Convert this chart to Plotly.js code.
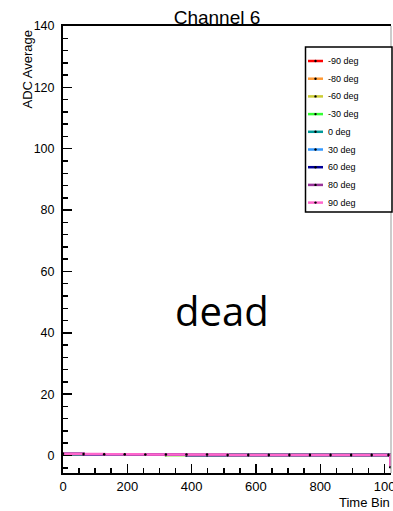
<!DOCTYPE html>
<html>
<head>
<meta charset="utf-8">
<script src="https://cdn.plot.ly/plotly-3.0.1.min.js"></script>
<style>
html,body{margin:0;padding:0;background:#fff;}
#chart{width:393px;height:511px;}
</style>
</head>
<body>
<div id="chart"></div>
<script>
// Data
const timeBins = [0, 64, 128, 192, 256, 320, 384, 448, 512, 576, 640, 704, 768, 832, 896, 960, 1012, 1018];
const seriesNames = ["-90 deg", "-80 deg", "-60 deg", "-30 deg", "0 deg", "30 deg", "60 deg", "80 deg", "90 deg"];
const seriesColors = ["#ff0000", "#ff9933", "#cccc33", "#33ff33", "#009999", "#3399ff", "#000099", "#993399", "#ff66cc"];
const adcM90 = [0.5, 0.4, 0.4, 0.3, 0.3, 0.3, 0.2, 0.2, 0.2, 0.2, 0.2, 0.2, 0.2, 0.2, 0.2, 0.2, 0.2, -3.5];
const adcM80 = [0.5, 0.4, 0.4, 0.3, 0.3, 0.3, 0.2, 0.2, 0.2, 0.2, 0.2, 0.2, 0.2, 0.2, 0.2, 0.2, 0.2, -3.5];
const adcM60 = [0.4, 0.4, 0.3, 0.3, 0.3, 0.2, 0.2, 0.2, 0.2, 0.2, 0.2, 0.2, 0.2, 0.2, 0.2, 0.2, 0.2, -3.5];
const adcM30 = [0.4, 0.4, 0.3, 0.3, 0.3, 0.2, 0.2, 0.2, 0.2, 0.2, 0.2, 0.2, 0.2, 0.2, 0.2, 0.2, 0.2, -3.5];
const adc0   = [0.5, 0.4, 0.4, 0.4, 0.3, 0.3, 0.2, 0.2, 0.2, 0.2, 0.2, 0.2, 0.2, 0.2, 0.2, 0.2, 0.2, -3.5];
const adcP30 = [0.5, 0.4, 0.4, 0.4, 0.3, 0.3, 0.2, 0.2, 0.2, 0.2, 0.2, 0.2, 0.2, 0.2, 0.2, 0.2, 0.2, -3.5];
const adcP60 = [0.5, 0.4, 0.4, 0.4, 0.3, 0.3, 0.2, 0.2, 0.2, 0.2, 0.2, 0.2, 0.2, 0.2, 0.2, 0.2, 0.2, -3.5];
const adcP80 = [0.5, 0.4, 0.4, 0.3, 0.3, 0.3, 0.2, 0.2, 0.2, 0.2, 0.2, 0.2, 0.2, 0.2, 0.2, 0.2, 0.2, -3.5];
const adcP90 = [0.6, 0.5, 0.4, 0.4, 0.3, 0.3, 0.3, 0.3, 0.2, 0.2, 0.2, 0.2, 0.2, 0.2, 0.2, 0.2, 0.2, -3.8];
const xTickVals = [0, 200, 400, 600, 800, 1000];
const xTickText = ["0", "200", "400", "600", "800", "100"];
const yTickVals = [0, 20, 40, 60, 80, 100, 120, 140];

const allSeries = [adcM90, adcM80, adcM60, adcM30, adc0, adcP30, adcP60, adcP80, adcP90];

const traces = allSeries.map((vals, i) => ({
  type: 'scatter',
  mode: 'lines+markers',
  x: timeBins,
  y: vals,
  name: seriesNames[i],
  line: {color: seriesColors[i], width: 2.5, shape: 'hv'},
  marker: {color: '#000', size: 2.5, symbol: 'circle'},
  showlegend: false,
  hoverinfo: 'skip'
}));

const font = "Liberation Sans, Arial, Helvetica, sans-serif";

// plot area in pixels (for placing decorations)
const PL = 63, PR = 391, PT = 26, PB = 473;
const px2x = px => (px - PL) / (PR - PL);
const px2y = py => (PB - py) / (PB - PT);

// legend box (drawn as decoration)
const shapes = [
  {type: 'line', xref: 'paper', yref: 'paper', x0: 1, x1: 1, y0: 0, y1: 1, line: {color: '#999', width: 1}},
  {type: 'rect', xref: 'paper', yref: 'paper', x0: px2x(305.5), x1: px2x(392), y0: px2y(212), y1: px2y(47),
   fillcolor: '#fff', line: {color: '#000', width: 1.5}, layer: 'above'}
];
const annotations = [
  {text: 'ADC Average', xref: 'paper', yref: 'paper', x: px2x(27), y: px2y(28), xanchor: 'center', yanchor: 'top',
   textangle: -90, showarrow: false, font: {family: font, size: 13, color: '#000'}},
  {text: 'Time Bin', xref: 'paper', yref: 'paper', x: px2x(392), y: px2y(503), xanchor: 'right', yanchor: 'middle',
   showarrow: false, font: {family: font, size: 13, color: '#000'}},
  {text: 'dead', xref: 'paper', yref: 'paper', x: px2x(222), y: px2y(310), xanchor: 'center', yanchor: 'middle',
   showarrow: false, font: {family: 'Open Sans, Noto Sans, sans-serif', size: 40, color: '#000'}}
];
seriesNames.forEach((name, i) => {
  const yc = 61 + i * 17.7;
  shapes.push({type: 'line', xref: 'paper', yref: 'paper', x0: px2x(308), x1: px2x(323), y0: px2y(yc), y1: px2y(yc),
    line: {color: seriesColors[i], width: 2.5}, layer: 'above'});
  shapes.push({type: 'circle', xref: 'paper', yref: 'paper', x0: px2x(314.3), x1: px2x(316.7), y0: px2y(yc + 1.2), y1: px2y(yc - 1.2),
    fillcolor: '#000', line: {width: 0}, layer: 'above'});
  annotations.push({text: name, xref: 'paper', yref: 'paper', x: px2x(326), y: px2y(yc), xanchor: 'left', yanchor: 'middle',
    showarrow: false, font: {family: font, size: 9, color: '#000'}});
});

const layout = {
  width: 393,
  height: 511,
  margin: {l: PL, r: 393 - PR, t: PT, b: 511 - PB, pad: 0},
  paper_bgcolor: '#fff',
  plot_bgcolor: '#fff',
  font: {family: font, size: 13, color: '#000'},
  title: {
    text: 'Channel 6',
    font: {family: font, size: 19, color: '#000'},
    x: 217 / 393, xanchor: 'center', y: 1 - 17.5 / 511, yanchor: 'middle'
  },
  xaxis: {
    range: [0, 1020],
    tickvals: xTickVals,
    ticktext: xTickText,
    ticks: 'inside',
    ticklen: 9,
    tickwidth: 1.5,
    tickcolor: '#000',
    minor: {dtick: 50, ticks: 'inside', ticklen: 5, tickwidth: 1.5, tickcolor: '#000', showgrid: false},
    showgrid: false,
    zeroline: false,
    showline: true,
    linecolor: '#000',
    linewidth: 2,
    mirror: true,
    ticklabeloverflow: 'allow',
    ticklabelstandoff: 0,
    tickfont: {family: font, size: 13, color: '#000'},
    fixedrange: true
  },
  yaxis: {
    range: [-5.7, 140],
    tickvals: yTickVals,
    ticks: 'inside',
    ticklen: 9,
    tickwidth: 1.5,
    tickcolor: '#000',
    minor: {dtick: 4, ticks: 'inside', ticklen: 5, tickwidth: 1.5, tickcolor: '#000', showgrid: false},
    showgrid: false,
    zeroline: false,
    showline: true,
    linecolor: '#000',
    linewidth: 2,
    tickfont: {family: font, size: 12.5, color: '#000'},
    ticklabelstandoff: 4,
    fixedrange: true
  },
  showlegend: false,
  shapes: shapes,
  annotations: annotations
};

Plotly.newPlot('chart', traces, layout, {displayModeBar: false, staticPlot: true});
</script>
</body>
</html>
